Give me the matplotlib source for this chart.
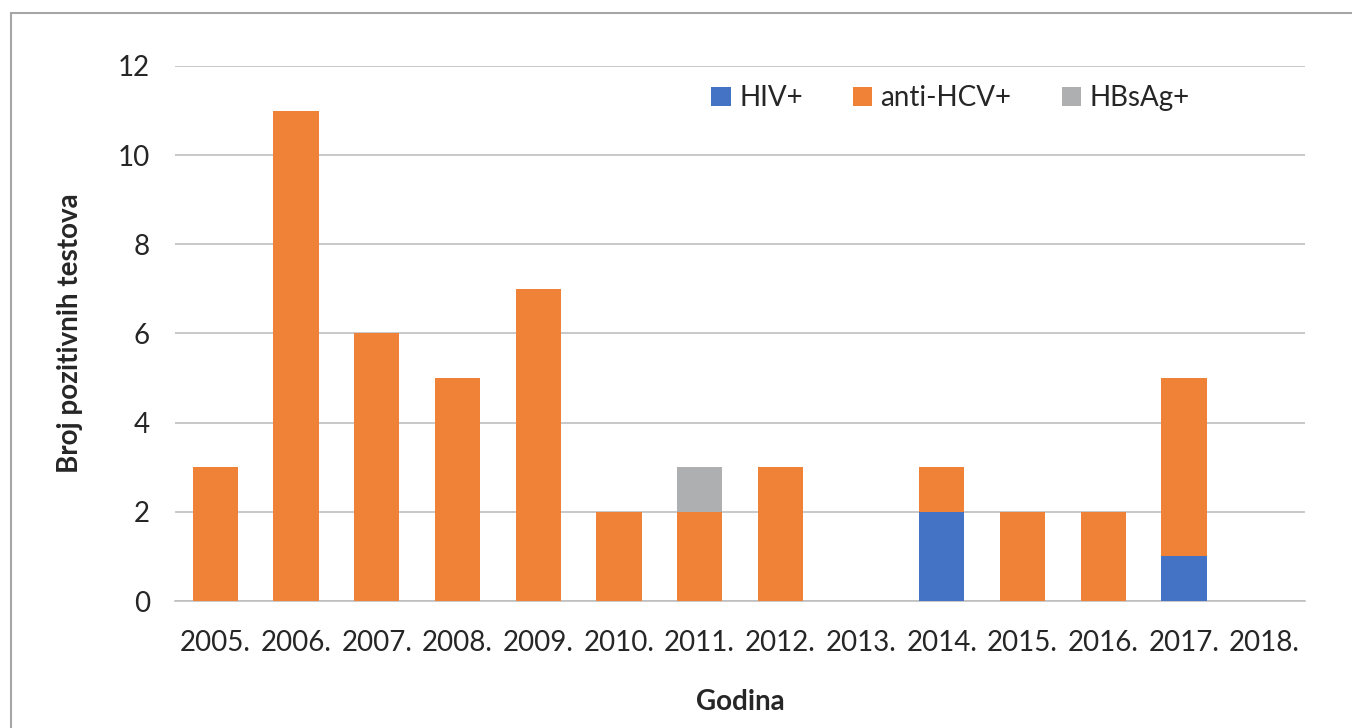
import matplotlib.pyplot as plt
from matplotlib.patches import Rectangle
import numpy as np

plt.rcParams['font.family'] = ['Lato', 'DejaVu Sans']

years = ['2005.', '2006.', '2007.', '2008.', '2009.', '2010.', '2011.',
         '2012.', '2013.', '2014.', '2015.', '2016.', '2017.', '2018.']
hiv = [0, 0, 0, 0, 0, 0, 0, 0, 0, 2, 0, 0, 1, 0]
hcv = [3, 11, 6, 5, 7, 2, 2, 3, 0, 1, 2, 2, 4, 0]
hbs = [0, 0, 0, 0, 0, 0, 1, 0, 0, 0, 0, 0, 0, 0]

c_hiv = '#4472C4'
c_hcv = '#F08238'
c_hbs = '#AEAFB1'

fig = plt.figure(figsize=(13.52, 7.28), dpi=100)
ax = fig.add_axes([175/1352, 1-601/728, 1130/1352, 535/728])

# outer frame of the chart area (only left/top visible)
fig.patches.append(Rectangle((11/1352, -0.1), 1.2, 1-13/728+0.1,
                             transform=fig.transFigure, fill=False,
                             edgecolor='#A6A6A6', lw=1.5))

x = np.arange(len(years))
w = 0.56
hiv = np.array(hiv); hcv = np.array(hcv); hbs = np.array(hbs)
ax.bar(x, hiv, w, color=c_hiv, label='HIV+', zorder=3)
ax.bar(x, hcv, w, bottom=hiv, color=c_hcv, label='anti-HCV+', zorder=3)
ax.bar(x, hbs, w, bottom=hiv + hcv, color=c_hbs, label='HBsAg+', zorder=3)

ax.set_xlim(-0.5, len(years) - 0.5)
ax.set_ylim(0, 12)
ax.set_yticks(range(0, 13, 2))
ax.set_xticks(x)
ax.set_xticklabels(years)
ax.grid(axis='y', color='#BFBFBF', lw=1.2, zorder=0)
for s in ['top', 'right', 'left']:
    ax.spines[s].set_visible(False)
ax.spines['bottom'].set_color('#BFBFBF')
ax.spines['bottom'].set_linewidth(1.2)
ax.tick_params(length=0, labelsize=20, colors='#262626', pad=21)
ax.tick_params(axis='y', pad=18)

ax.set_xlabel('Godina', fontsize=20, fontweight='bold', color='#262626')
ax.xaxis.set_label_coords(0.5, -0.165)
ax.set_ylabel('Broj pozitivnih testova', fontsize=20, fontweight='bold', color='#262626')
ax.yaxis.set_label_coords(-0.081, 0.5)

leg = ax.legend(loc='upper left', bbox_to_anchor=(0.4526, 1.011), ncol=3, frameon=False,
                fontsize=20, handlelength=0.7, handleheight=0.7, columnspacing=1.8,
                handletextpad=0.3, labelcolor='#262626')

fig.savefig('out.png', dpi=100)
